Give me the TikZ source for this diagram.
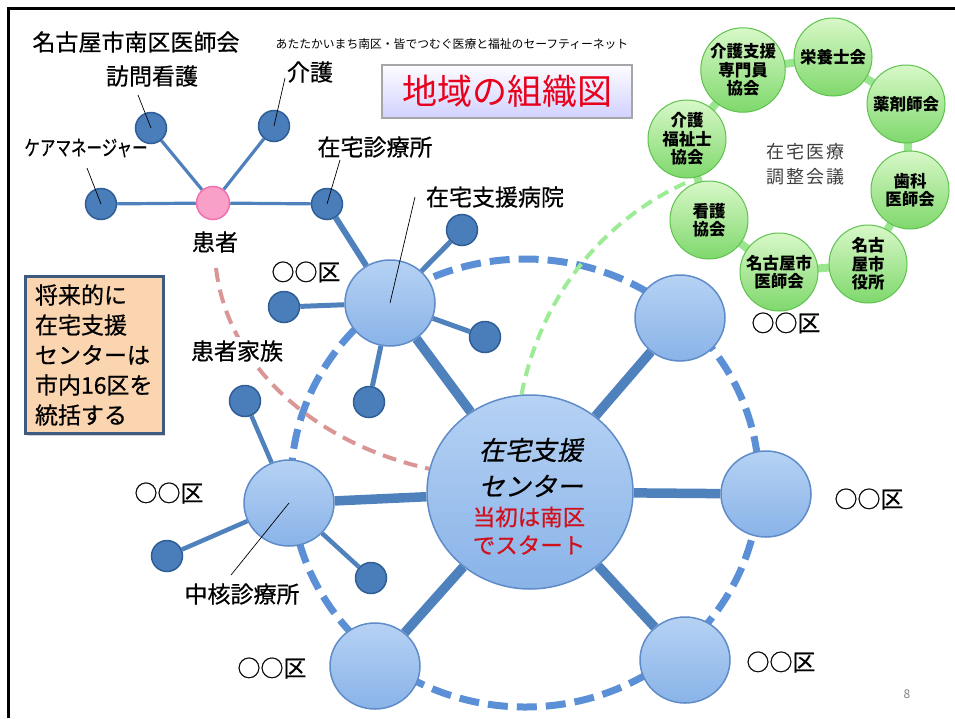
\documentclass[tikz,border=0pt]{standalone}
\usepackage{fontspec}
\setmainfont{Noto Sans CJK JP}
\newfontfamily\jpslant[FakeSlant=0.2,FakeBold=0.6]{Noto Sans CJK JP}
\newfontfamily\jpmed[FakeBold=0.6]{Noto Sans CJK JP}
\usetikzlibrary{shapes.geometric,shadows}
\definecolor{spokeblue}{HTML}{4F81BD}
\definecolor{ringblue}{HTML}{5B8FD6}
\definecolor{darkfill}{HTML}{4A7EBB}
\definecolor{darkedge}{HTML}{2F5D95}
\definecolor{lightedge}{HTML}{5F8CC8}
\definecolor{lighttop}{HTML}{B6D2F4}
\definecolor{lightbot}{HTML}{89B3E8}
\definecolor{greenline}{HTML}{9AE690}
\definecolor{greendash}{HTML}{9CEC96}
\definecolor{greentop}{HTML}{D8F8C8}
\definecolor{greenbot}{HTML}{7FD86C}
\definecolor{greenedge}{HTML}{5EC24E}
\definecolor{pinkdash}{HTML}{D99694}
\definecolor{pinkfill}{HTML}{F8A0C8}
\definecolor{pinkedge}{HTML}{F070B0}
\definecolor{titlered}{HTML}{E8001C}
\definecolor{peach}{HTML}{FBD4B0}
\definecolor{boxedge}{HTML}{3D5A80}
\definecolor{redtext}{HTML}{D0101C}
\pgfdeclarelayer{bg}
\pgfsetlayers{bg,main}
\begin{document}
\begin{tikzpicture}[x=1pt,y=-1pt,
  lbl/.style={font=\fontsize{23}{28}\selectfont\jpmed, inner sep=1pt},
  dot/.style={circle, fill=darkfill, draw=darkedge, line width=1.5pt, minimum size=31pt, inner sep=0pt},
  bignode/.style={ellipse, top color=lighttop, bottom color=lightbot, draw=lightedge, line width=1.5pt, minimum width=90pt, minimum height=86pt, inner sep=0pt},
  gnode/.style={circle, top color=greentop, bottom color=greenbot, draw=greenedge, line width=1pt, minimum size=78pt, inner sep=0pt, align=center, font=\fontsize{16.5}{18.5}\selectfont\bfseries},
  spoke/.style={spokeblue, line width=9.5pt},
  midlink/.style={spokeblue, line width=5pt},
  thinlink/.style={spokeblue, line width=3.2pt},
  leader/.style={black, line width=0.7pt},
  ringdash/.style={ringblue, line width=7pt, dash pattern=on 20pt off 9pt},
  pinkline/.style={pinkdash, line width=4pt, dash pattern=on 14pt off 8pt},
  gdash/.style={greendash, line width=4pt, dash pattern=on 12pt off 7pt},
  gloop/.style={greenline, line width=8pt, line join=round}
]
\useasboundingbox (0,0) rectangle (955,718);
\draw[line width=3pt] (8,718) -- (8,8) -- (955,8);

% title texts
\node[lbl] (title) at (136,42) {名古屋市南区医師会};
\node[font=\fontsize{11.8}{14}\selectfont, inner sep=0pt] (sub) at (452,44) {あたたかいまち南区・皆でつむぐ医療と福祉のセーフティーネット};
\node[draw=gray!70, line width=1.5pt, top color=white!90!blue!10, bottom color=blue!18!white, minimum width=250pt, minimum height=53pt, font=\fontsize{35}{40}\selectfont, text=titlered] (org) at (507,91.5) {地域の組織図};

% small network
\node[circle, fill=pinkfill, draw=pinkedge, line width=1.5pt, minimum size=33pt, inner sep=0pt] (pat) at (213,203) {};
\node[dot] (vn) at (151,128) {};
\node[dot] (care) at (274,126) {};
\node[dot] (cm) at (101,204) {};
\node[dot] (clinic) at (327,204) {};
\node[lbl] (vnl) at (152,76) {訪問看護};
\node[lbl] (carel) at (310,72) {介護};
\node[font=\fontsize{21}{24}\selectfont\jpmed, inner sep=0pt] (cml) at (86,148) {\scalebox{0.74}[1]{ケアマネージャー}};
\node[lbl] (clinicl) at (375,147) {在宅診療所};
\node[lbl] (patl) at (215,242) {患者};
\coordinate (lvn) at (138,95);
\coordinate (lcare) at (285,78);
\coordinate (lcm) at (87,168);
\coordinate (lclinic) at (340,160);

% hospital
\node[bignode] (hosp) at (390,303) {};
\node[dot] (hs1) at (462,230) {};
\node[dot] (hs2) at (284,307) {};
\node[dot] (hs3) at (485,337) {};
\node[dot] (hs4) at (369,402) {};
\node[lbl] (hospl) at (495,197) {在宅支援病院};
\coordinate (lhosp) at (415,197);
\node[lbl] (k1) at (306,272) {○○区};

% center
\node[ellipse, top color=lighttop, bottom color=lightbot, draw=lightedge, line width=1.5pt, minimum width=206pt, minimum height=194pt, inner sep=0pt] (ctr) at (530,492) {};
\node[font=\fontsize{26}{30}\selectfont\jpslant, inner sep=0pt] (c1) at (531,450) {在宅支援};
\node[font=\fontsize{26}{30}\selectfont\jpslant, inner sep=0pt] (c2) at (531,486) {センター};
\node[font=\fontsize{22.5}{26}\selectfont\jpmed, text=redtext, inner sep=0pt] (c3) at (529,517) {当初は南区};
\node[font=\fontsize{22.5}{26}\selectfont\jpmed, text=redtext, inner sep=0pt] (c4) at (529,545) {でスタート};

% ring nodes
\node[bignode] (tr) at (680,318) {};
\node[bignode] (rt) at (766,494) {};
\node[bignode] (br) at (685,660) {};
\node[bignode] (bl) at (375,666) {};
\node[bignode] (lf) at (289,503) {};
\node[dot] (ls1) at (245,401) {};
\node[dot] (ls2) at (167,556) {};
\node[dot] (ls3) at (371,578) {};
\node[lbl] (k2) at (786,323) {○○区};
\node[lbl] (k3) at (869,499) {○○区};
\node[lbl] (k4) at (781,662) {○○区};
\node[lbl] (k5) at (272,668) {○○区};
\node[lbl] (k6) at (169,493) {○○区};
\node[lbl] (chul) at (242,594) {中核診療所};
\coordinate (lchu) at (231,575);

% left box
\node[draw=boxedge, line width=3pt, fill=peach, drop shadow={shadow xshift=2pt, shadow yshift=-2pt, opacity=0.35}, text width=118pt, inner xsep=10pt, inner ysep=0pt, minimum height=157pt, align=left, font=\fontsize{23}{30}\selectfont\jpmed] (fbox) at (94,355) {将来的に\\在宅支援\\センターは\\市内16区を\\統括する};

% green cluster
\node[gnode] (gkf) at (687,139) {介護\\福祉士\\協会};
\node[gnode] (gks) at (743,70) {介護支援\\専門員\\協会};
\node[gnode] (gei) at (833,57) {栄養士会};
\node[gnode] (gyk) at (906,104) {薬剤師会};
\node[gnode] (gsh) at (910,190) {歯科\\医師会};
\node[gnode] (gsy) at (868,264) {名古\\屋市\\役所};
\node[gnode] (gis) at (779,272) {名古屋市\\医師会};
\node[gnode] (gkg) at (709,220) {看護\\協会};
\node[font=\fontsize{18}{25}\selectfont, text=black!75, align=center, inner sep=0pt] (meet) at (805,164) {在\hspace{2pt}宅\hspace{2pt}医\hspace{2pt}療\\調\hspace{2pt}整\hspace{2pt}会\hspace{2pt}議};
\coordinate (gend) at (690,181);
\coordinate (pstart) at (216,268);

% patient family label (covers pink dashes)
\node[lbl, fill=white, inner sep=3pt] (fam) at (237,351) {患者家族};

\node[font=\fontsize{12}{14}\selectfont, text=gray, inner sep=0pt] (pnum) at (907,694) {8};

% leaders
\draw[leader] (lvn) -- (vn.center);
\draw[leader] (lcare) -- (care.center);
\draw[leader] (lcm) -- (cm.center);
\draw[leader] (lclinic) -- (clinic.center);
\draw[leader] (lhosp) -- (hosp.center);
\draw[leader] (lchu) -- (lf.center);

\begin{pgfonlayer}{bg}
  \draw[gloop] (gkf.center) -- (gks.center) -- (gei.center) -- (gyk.center) -- (gsh.center) -- (gsy.center) -- (gis.center) -- (gkg.center) -- cycle;
  \draw[ringdash] (525,483) ellipse [x radius=234, y radius=224];
  \draw[spoke] (ctr) -- (hosp);
  \draw[spoke] (ctr) -- (tr);
  \draw[spoke] (ctr) -- (rt);
  \draw[spoke] (ctr) -- (br);
  \draw[spoke] (ctr) -- (bl);
  \draw[spoke] (ctr) -- (lf);
  \draw[spokeblue, line width=6pt] (clinic) -- (hosp);
  \foreach \s in {hs1,hs2,hs3,hs4} \draw[midlink] (hosp) -- (\s);
  \foreach \s in {ls1,ls2,ls3} \draw[spokeblue, line width=4.5pt] (lf) -- (\s);
  \foreach \s in {vn,care,cm,clinic} \draw[thinlink] (pat) -- (\s);
  \draw[pinkline] (pstart) .. controls (228,370) and (320,445) .. (ctr.167);
  \draw[gdash] (ctr.95) .. controls (540,300) and (600,220) .. (gend);
\end{pgfonlayer}
\end{tikzpicture}
\end{document}
